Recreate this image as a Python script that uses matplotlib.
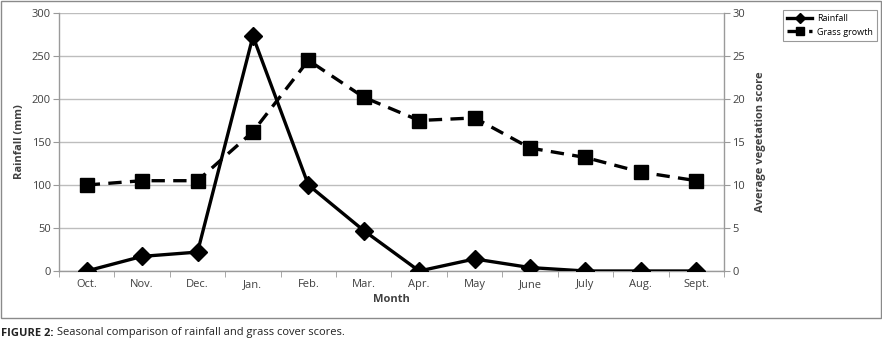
import matplotlib
matplotlib.use("Agg")
import matplotlib.pyplot as plt
from matplotlib.patches import Rectangle

months = ["Oct.", "Nov.", "Dec.", "Jan.", "Feb.", "Mar.", "Apr.", "May", "June", "July", "Aug.", "Sept."]
rainfall = [0, 17, 22, 273, 100, 47, 0, 14, 4, 0, 0, 0]
grass = [10.0, 10.5, 10.5, 16.2, 24.5, 20.2, 17.5, 17.8, 14.3, 13.2, 11.5, 10.5]
left_ticks = [0, 50, 100, 150, 200, 250, 300]
right_ticks = [0, 5, 10, 15, 20, 25, 30]

plt.rcParams['font.family'] = ['Open Sans', 'DejaVu Sans']

W, H = 882, 339
fig = plt.figure(figsize=(W / 100, H / 100), dpi=100)

# axes placement (pixels)
x0, x1, ytop, ybot = 59, 724, 13, 271
ax = fig.add_axes([x0 / W, 1 - ybot / H, (x1 - x0) / W, (ybot - ytop) / H])
ax2 = ax.twinx()

xs = list(range(len(months)))
gridc = "#bdbdbd"
axc = "#9a9a9a"
txtc = "#404040"

ax.set_xlim(-0.5, len(months) - 0.5)
ax.set_ylim(0, 300)
ax2.set_ylim(0, 30)
ax.set_yticks(left_ticks)
ax2.set_yticks(right_ticks)
ax.set_xticks(xs)
ax.set_xticklabels(months)
ax.set_xticks([i - 0.5 for i in range(len(months) + 1)], minor=True)
ax.tick_params(axis='x', which='major', length=0, labelsize=8, colors=txtc, pad=6)
ax.tick_params(axis='x', which='minor', length=4, color=axc, direction='out')
ax.tick_params(axis='y', length=4, color=axc, labelsize=8, labelcolor=txtc, pad=2)
ax2.tick_params(axis='y', length=4, color=axc, labelsize=8, labelcolor=txtc, pad=2)

ax.grid(axis='y', color=gridc, linewidth=1)
ax.set_axisbelow(True)
for s in ['top']:
    ax.spines[s].set_visible(False)
    ax2.spines[s].set_visible(False)
ax.spines['right'].set_visible(False)
for sp in [ax.spines['left'], ax.spines['bottom'], ax2.spines['right']]:
    sp.set_color(axc)
    sp.set_linewidth(1)
ax2.spines['left'].set_visible(False)
ax2.spines['bottom'].set_visible(False)

r_line, = ax2.plot(xs, [v / 10 for v in rainfall], color='black', linewidth=2.4,
                   marker='D', markersize=9, zorder=3, label='Rainfall')
g_line, = ax2.plot(xs, grass, color='black', linewidth=2.4, linestyle=(0, (4, 2.5)),
                   marker='s', markersize=10, zorder=3, label='Grass growth')

ax.set_ylabel("Rainfall (mm)", fontsize=8, fontweight='bold', color=txtc, labelpad=5)
ax2.set_ylabel("Average vegetation score", fontsize=8, fontweight='bold', color=txtc, labelpad=7)
ax.set_xlabel("Month", fontsize=8, fontweight='bold', color=txtc, labelpad=3)

leg = fig.legend(handles=[r_line, g_line], labels=['Rainfall', 'Grass growth'],
                 loc='upper left', bbox_to_anchor=(778 / W, 1 - 5 / H),
                 fontsize=6.5, frameon=True, fancybox=False, edgecolor='#808080',
                 handlelength=2.8, borderpad=0.5, labelspacing=0.5, handletextpad=0.5,
                 markerscale=0.55)
leg.get_frame().set_linewidth(0.8)

# outer frame
fig.patches.append(Rectangle((0.5 / W, 1 - 318 / H), (W - 1.5) / W, 317.5 / H,
                             transform=fig.transFigure, fill=False,
                             edgecolor='#8a8a8a', linewidth=1))

fig.text(1 / W, 1 - 333 / H, "FIGURE 2:", fontsize=8, fontweight='bold',
         color='#222222', va='center', ha='left')
fig.text(57 / W, 1 - 333 / H, "Seasonal comparison of rainfall and grass cover scores.",
         fontsize=8, color='#222222', va='center', ha='left')

fig.savefig("out.png", dpi=100)
